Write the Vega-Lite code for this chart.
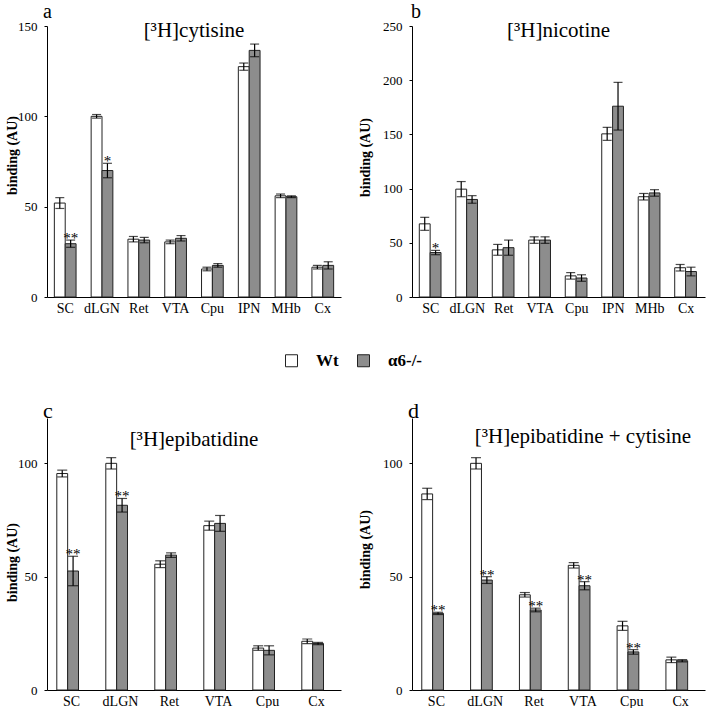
{
  "$schema": "https://vega.github.io/schema/vega-lite/v6.json",
  "background": "white",
  "padding": {"left": 5, "top": 1, "right": 5, "bottom": 0},
  "bounds": "flush",
  "columns": 2,
  "spacing": {"row": 121, "column": 71},
  "config": {
    "font": "Liberation Serif",
    "view": {"stroke": null},
    "axis": {"domainColor": "black", "tickColor": "black", "labelColor": "black", "titleColor": "black", "labelFont": "Liberation Serif", "titleFont": "Liberation Serif", "grid": false},
    "axisX": {"ticks": false, "labelFontSize": 14, "labelPadding": 4, "labelAngle": 0, "domainWidth": 1},
    "axisY": {"tickSize": 3, "labelPadding": 7, "labelFontSize": 13, "titleFontSize": 14, "titleFontWeight": "bold"},
    "legend": {"orient": "none", "legendX": 236, "legendY": 326, "direction": "horizontal", "symbolType": "square", "symbolSize": 144, "symbolStrokeColor": "#222", "symbolStrokeWidth": 1, "labelFont": "Liberation Serif", "labelFontSize": 17, "labelFontWeight": "bold", "labelColor": "black", "labelOffset": 16, "columnPadding": 16},
    "title": {"font": "Liberation Serif", "fontWeight": "normal", "fontSize": 22, "color": "black", "anchor": "start", "frame": "group"}
  },
  "datasets": {
    "bars": [
      {"p": "a", "r": "SC", "g": "Wt", "v": 52, "e": 3},
      {"p": "a", "r": "SC", "g": "α6-/-", "v": 29.5, "e": 2},
      {"p": "a", "r": "dLGN", "g": "Wt", "v": 100, "e": 1},
      {"p": "a", "r": "dLGN", "g": "α6-/-", "v": 70, "e": 4},
      {"p": "a", "r": "Ret", "g": "Wt", "v": 32, "e": 1.5},
      {"p": "a", "r": "Ret", "g": "α6-/-", "v": 31.5, "e": 1.5},
      {"p": "a", "r": "VTA", "g": "Wt", "v": 30.5, "e": 1},
      {"p": "a", "r": "VTA", "g": "α6-/-", "v": 32.5, "e": 1.5},
      {"p": "a", "r": "Cpu", "g": "Wt", "v": 15.5, "e": 1},
      {"p": "a", "r": "Cpu", "g": "α6-/-", "v": 17.5, "e": 1},
      {"p": "a", "r": "IPN", "g": "Wt", "v": 127.5, "e": 2},
      {"p": "a", "r": "IPN", "g": "α6-/-", "v": 136.5, "e": 3.5},
      {"p": "a", "r": "MHb", "g": "Wt", "v": 56, "e": 1},
      {"p": "a", "r": "MHb", "g": "α6-/-", "v": 55.5, "e": 0.5},
      {"p": "a", "r": "Cx", "g": "Wt", "v": 16.5, "e": 1},
      {"p": "a", "r": "Cx", "g": "α6-/-", "v": 17.5, "e": 2},
      {"p": "b", "r": "SC", "g": "Wt", "v": 67.5, "e": 6},
      {"p": "b", "r": "SC", "g": "α6-/-", "v": 41, "e": 2},
      {"p": "b", "r": "dLGN", "g": "Wt", "v": 99.5, "e": 7},
      {"p": "b", "r": "dLGN", "g": "α6-/-", "v": 90, "e": 3.5},
      {"p": "b", "r": "Ret", "g": "Wt", "v": 43.5, "e": 5},
      {"p": "b", "r": "Ret", "g": "α6-/-", "v": 45.5, "e": 7},
      {"p": "b", "r": "VTA", "g": "Wt", "v": 52.5, "e": 3},
      {"p": "b", "r": "VTA", "g": "α6-/-", "v": 52.5, "e": 3},
      {"p": "b", "r": "Cpu", "g": "Wt", "v": 19.5, "e": 3},
      {"p": "b", "r": "Cpu", "g": "α6-/-", "v": 17.5, "e": 3},
      {"p": "b", "r": "IPN", "g": "Wt", "v": 150.5, "e": 6},
      {"p": "b", "r": "IPN", "g": "α6-/-", "v": 176, "e": 22},
      {"p": "b", "r": "MHb", "g": "Wt", "v": 92.5, "e": 3},
      {"p": "b", "r": "MHb", "g": "α6-/-", "v": 96, "e": 3},
      {"p": "b", "r": "Cx", "g": "Wt", "v": 27, "e": 3},
      {"p": "b", "r": "Cx", "g": "α6-/-", "v": 23.5, "e": 4},
      {"p": "c", "r": "SC", "g": "Wt", "v": 95.5, "e": 1.5},
      {"p": "c", "r": "SC", "g": "α6-/-", "v": 52.5, "e": 6.5},
      {"p": "c", "r": "dLGN", "g": "Wt", "v": 100, "e": 2.5},
      {"p": "c", "r": "dLGN", "g": "α6-/-", "v": 81.5, "e": 3},
      {"p": "c", "r": "Ret", "g": "Wt", "v": 55.5, "e": 1.5},
      {"p": "c", "r": "Ret", "g": "α6-/-", "v": 59.5, "e": 1},
      {"p": "c", "r": "VTA", "g": "Wt", "v": 72.5, "e": 2},
      {"p": "c", "r": "VTA", "g": "α6-/-", "v": 73.5, "e": 3.5},
      {"p": "c", "r": "Cpu", "g": "Wt", "v": 18.5, "e": 1},
      {"p": "c", "r": "Cpu", "g": "α6-/-", "v": 17.5, "e": 2},
      {"p": "c", "r": "Cx", "g": "Wt", "v": 21.5, "e": 1},
      {"p": "c", "r": "Cx", "g": "α6-/-", "v": 20.5, "e": 0.5},
      {"p": "d", "r": "SC", "g": "Wt", "v": 86.5, "e": 2.5},
      {"p": "d", "r": "SC", "g": "α6-/-", "v": 33.8, "e": 0.5},
      {"p": "d", "r": "dLGN", "g": "Wt", "v": 100, "e": 2.5},
      {"p": "d", "r": "dLGN", "g": "α6-/-", "v": 48.5, "e": 1.5},
      {"p": "d", "r": "Ret", "g": "Wt", "v": 42, "e": 1},
      {"p": "d", "r": "Ret", "g": "α6-/-", "v": 35.3, "e": 0.8},
      {"p": "d", "r": "VTA", "g": "Wt", "v": 55, "e": 1.2},
      {"p": "d", "r": "VTA", "g": "α6-/-", "v": 46, "e": 1.8},
      {"p": "d", "r": "Cpu", "g": "Wt", "v": 28.3, "e": 2},
      {"p": "d", "r": "Cpu", "g": "α6-/-", "v": 16.8, "e": 1},
      {"p": "d", "r": "Cx", "g": "Wt", "v": 13.3, "e": 1.2},
      {"p": "d", "r": "Cx", "g": "α6-/-", "v": 12.9, "e": 0.5}
    ],
    "sig": [
      {"p": "a", "r": "SC", "g": "α6-/-", "s": "**", "y": 31.5},
      {"p": "a", "r": "dLGN", "g": "α6-/-", "s": "*", "y": 74},
      {"p": "b", "r": "SC", "g": "α6-/-", "s": "*", "y": 43},
      {"p": "c", "r": "SC", "g": "α6-/-", "s": "**", "y": 59},
      {"p": "c", "r": "dLGN", "g": "α6-/-", "s": "**", "y": 84.5},
      {"p": "d", "r": "SC", "g": "α6-/-", "s": "**", "y": 34.3},
      {"p": "d", "r": "dLGN", "g": "α6-/-", "s": "**", "y": 50},
      {"p": "d", "r": "Ret", "g": "α6-/-", "s": "**", "y": 36.1},
      {"p": "d", "r": "VTA", "g": "α6-/-", "s": "**", "y": 47.8},
      {"p": "d", "r": "Cpu", "g": "α6-/-", "s": "**", "y": 17.8}
    ]
  },
  "concat": [
    {
      "width": 294, "height": 271,
      "title": {"text": "a", "offset": -2, "dx": -4, "fontSize": 20},
      "layer": [
        {"data": {"name": "bars"}, "transform": [{"filter": "datum.p === 'a'"}],
         "mark": {"type": "bar", "stroke": "#222", "strokeWidth": 1},
         "encoding": {
           "x": {"field": "r", "type": "nominal", "title": null, "scale": {"domain": ["SC", "dLGN", "Ret", "VTA", "Cpu", "IPN", "MHb", "Cx"], "paddingInner": 0.41, "paddingOuter": 0.2}},
           "xOffset": {"field": "g", "type": "nominal", "scale": {"domain": ["Wt", "α6-/-"]}},
           "y": {"field": "v", "type": "quantitative", "title": "binding (AU)", "scale": {"domain": [0, 150], "nice": false}, "axis": {"values": [0, 50, 100, 150], "titlePadding": -2, "titleY": 129}},
           "fill": {"field": "g", "type": "nominal", "title": null, "scale": {"domain": ["Wt", "α6-/-"], "range": ["#ffffff", "#8d8d8d"]}}
         }},
        {"data": {"name": "bars"}, "transform": [{"filter": "datum.p === 'a'"}],
         "mark": {"type": "errorbar", "ticks": {"size": 9, "color": "black", "thickness": 1.2}, "rule": {"color": "black", "strokeWidth": 1.2}},
         "encoding": {
           "x": {"field": "r", "type": "nominal", "title": null},
           "xOffset": {"field": "g", "type": "nominal"},
           "y": {"field": "v", "type": "quantitative", "title": "binding (AU)"},
           "yError": {"field": "e"}
         }},
        {"data": {"name": "sig"}, "transform": [{"filter": "datum.p === 'a'"}],
         "mark": {"type": "text", "fontSize": 15, "baseline": "alphabetic", "dy": 3, "color": "black"},
         "encoding": {
           "x": {"field": "r", "type": "nominal", "title": null},
           "xOffset": {"field": "g", "type": "nominal"},
           "y": {"field": "y", "type": "quantitative", "title": "binding (AU)"},
           "text": {"field": "s"}
         }},
        {"data": {"values": [{"t": "[³H]cytisine"}]},
         "mark": {"type": "text", "fontSize": 21, "baseline": "alphabetic", "color": "black"},
         "encoding": {"y": {"datum": 143.9, "type": "quantitative"}, "text": {"field": "t"}}}
      ]
    },
    {
      "width": 293, "height": 271,
      "title": {"text": "b", "offset": -2, "dx": -1, "fontSize": 20},
      "layer": [
        {"data": {"name": "bars"}, "transform": [{"filter": "datum.p === 'b'"}],
         "mark": {"type": "bar", "stroke": "#222", "strokeWidth": 1},
         "encoding": {
           "x": {"field": "r", "type": "nominal", "title": null, "scale": {"domain": ["SC", "dLGN", "Ret", "VTA", "Cpu", "IPN", "MHb", "Cx"], "paddingInner": 0.37, "paddingOuter": 0.2}},
           "xOffset": {"field": "g", "type": "nominal", "scale": {"domain": ["Wt", "α6-/-"]}},
           "y": {"field": "v", "type": "quantitative", "title": "binding (AU)", "scale": {"domain": [0, 250], "nice": false}, "axis": {"values": [0, 50, 100, 150, 200, 250], "titlePadding": 10, "titleY": 131}},
           "fill": {"field": "g", "type": "nominal", "title": null, "scale": {"domain": ["Wt", "α6-/-"], "range": ["#ffffff", "#8d8d8d"]}}
         }},
        {"data": {"name": "bars"}, "transform": [{"filter": "datum.p === 'b'"}],
         "mark": {"type": "errorbar", "ticks": {"size": 9, "color": "black", "thickness": 1.2}, "rule": {"color": "black", "strokeWidth": 1.2}},
         "encoding": {
           "x": {"field": "r", "type": "nominal", "title": null},
           "xOffset": {"field": "g", "type": "nominal"},
           "y": {"field": "v", "type": "quantitative", "title": "binding (AU)"},
           "yError": {"field": "e"}
         }},
        {"data": {"name": "sig"}, "transform": [{"filter": "datum.p === 'b'"}],
         "mark": {"type": "text", "fontSize": 15, "baseline": "alphabetic", "dy": 3, "color": "black"},
         "encoding": {
           "x": {"field": "r", "type": "nominal", "title": null},
           "xOffset": {"field": "g", "type": "nominal"},
           "y": {"field": "y", "type": "quantitative", "title": "binding (AU)"},
           "text": {"field": "s"}
         }},
        {"data": {"values": [{"t": "[³H]nicotine"}]},
         "mark": {"type": "text", "fontSize": 21, "baseline": "alphabetic", "color": "black"},
         "encoding": {"y": {"datum": 239.9, "type": "quantitative"}, "text": {"field": "t"}}}
      ]
    },
    {
      "width": 294, "height": 272,
      "title": {"text": "c", "offset": -5, "dx": -4},
      "layer": [
        {"data": {"name": "bars"}, "transform": [{"filter": "datum.p === 'c'"}],
         "mark": {"type": "bar", "stroke": "#222", "strokeWidth": 1},
         "encoding": {
           "x": {"field": "r", "type": "nominal", "title": null, "scale": {"domain": ["SC", "dLGN", "Ret", "VTA", "Cpu", "Cx"], "paddingInner": 0.4, "paddingOuter": 0.2}},
           "xOffset": {"field": "g", "type": "nominal", "scale": {"domain": ["Wt", "α6-/-"]}},
           "y": {"field": "v", "type": "quantitative", "title": "binding (AU)", "scale": {"domain": [0, 120], "nice": false}, "axis": {"values": [0, 50, 100], "titlePadding": -2, "titleY": 144}},
           "fill": {"field": "g", "type": "nominal", "title": null, "scale": {"domain": ["Wt", "α6-/-"], "range": ["#ffffff", "#8d8d8d"]}}
         }},
        {"data": {"name": "bars"}, "transform": [{"filter": "datum.p === 'c'"}],
         "mark": {"type": "errorbar", "ticks": {"size": 10, "color": "black", "thickness": 1.2}, "rule": {"color": "black", "strokeWidth": 1.2}},
         "encoding": {
           "x": {"field": "r", "type": "nominal", "title": null},
           "xOffset": {"field": "g", "type": "nominal"},
           "y": {"field": "v", "type": "quantitative", "title": "binding (AU)"},
           "yError": {"field": "e"}
         }},
        {"data": {"name": "sig"}, "transform": [{"filter": "datum.p === 'c'"}],
         "mark": {"type": "text", "fontSize": 15, "baseline": "alphabetic", "dy": 3, "color": "black"},
         "encoding": {
           "x": {"field": "r", "type": "nominal", "title": null},
           "xOffset": {"field": "g", "type": "nominal"},
           "y": {"field": "y", "type": "quantitative", "title": "binding (AU)"},
           "text": {"field": "s"}
         }},
        {"data": {"values": [{"t": "[³H]epibatidine"}]},
         "mark": {"type": "text", "fontSize": 21, "baseline": "alphabetic", "color": "black"},
         "encoding": {"y": {"datum": 107.6, "type": "quantitative"}, "text": {"field": "t"}}}
      ]
    },
    {
      "width": 293, "height": 272,
      "title": {"text": "d", "offset": -5, "dx": -4},
      "layer": [
        {"data": {"name": "bars"}, "transform": [{"filter": "datum.p === 'd'"}],
         "mark": {"type": "bar", "stroke": "#222", "strokeWidth": 1},
         "encoding": {
           "x": {"field": "r", "type": "nominal", "title": null, "scale": {"domain": ["SC", "dLGN", "Ret", "VTA", "Cpu", "Cx"], "paddingInner": 0.4, "paddingOuter": 0.2}},
           "xOffset": {"field": "g", "type": "nominal", "scale": {"domain": ["Wt", "α6-/-"]}},
           "y": {"field": "v", "type": "quantitative", "title": "binding (AU)", "scale": {"domain": [0, 120], "nice": false}, "axis": {"values": [0, 50, 100], "titlePadding": 10, "titleY": 131}},
           "fill": {"field": "g", "type": "nominal", "title": null, "scale": {"domain": ["Wt", "α6-/-"], "range": ["#ffffff", "#8d8d8d"]}}
         }},
        {"data": {"name": "bars"}, "transform": [{"filter": "datum.p === 'd'"}],
         "mark": {"type": "errorbar", "ticks": {"size": 10, "color": "black", "thickness": 1.2}, "rule": {"color": "black", "strokeWidth": 1.2}},
         "encoding": {
           "x": {"field": "r", "type": "nominal", "title": null},
           "xOffset": {"field": "g", "type": "nominal"},
           "y": {"field": "v", "type": "quantitative", "title": "binding (AU)"},
           "yError": {"field": "e"}
         }},
        {"data": {"name": "sig"}, "transform": [{"filter": "datum.p === 'd'"}],
         "mark": {"type": "text", "fontSize": 15, "baseline": "alphabetic", "dy": 3, "color": "black"},
         "encoding": {
           "x": {"field": "r", "type": "nominal", "title": null},
           "xOffset": {"field": "g", "type": "nominal"},
           "y": {"field": "y", "type": "quantitative", "title": "binding (AU)"},
           "text": {"field": "s"}
         }},
        {"data": {"values": [{"t": "[³H]epibatidine + cytisine"}]},
         "mark": {"type": "text", "fontSize": 21, "baseline": "alphabetic", "color": "black"},
         "encoding": {"x": {"datum": "VTA", "type": "nominal"}, "y": {"datum": 108.9, "type": "quantitative"}, "text": {"field": "t"}}}
      ]
    }
  ]
}
